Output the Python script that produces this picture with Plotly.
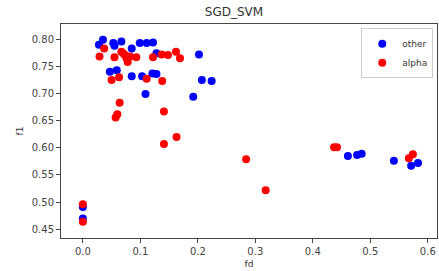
import plotly.graph_objects as go

other_fd = [0.035, 0.028, 0.053, 0.055, 0.067, 0.085, 0.099, 0.111, 0.122, 0.128,
            0.202, 0.047, 0.059, 0.085, 0.103, 0.121, 0.128, 0.109, 0.207, 0.224,
            0.192, 0.0, 0.0, 0.461, 0.477, 0.485, 0.541, 0.571, 0.583]
other_f1 = [0.799, 0.790, 0.793, 0.788, 0.796, 0.783, 0.793, 0.793, 0.794, 0.774,
            0.772, 0.740, 0.743, 0.732, 0.732, 0.737, 0.736, 0.699, 0.725, 0.723,
            0.694, 0.491, 0.470, 0.585, 0.587, 0.589, 0.576, 0.567, 0.572]

alpha_fd = [0.037, 0.029, 0.055, 0.067, 0.070, 0.073, 0.076, 0.082, 0.093, 0.078,
            0.122, 0.137, 0.148, 0.162, 0.169, 0.050, 0.063, 0.111, 0.138, 0.064,
            0.060, 0.057, 0.141, 0.163, 0.141, 0.284, 0.318, 0.437, 0.442, 0.567,
            0.574, 0.0, 0.0]
alpha_f1 = [0.783, 0.768, 0.767, 0.777, 0.774, 0.771, 0.765, 0.768, 0.767, 0.758,
            0.767, 0.772, 0.771, 0.777, 0.765, 0.725, 0.730, 0.727, 0.723, 0.683,
            0.662, 0.656, 0.667, 0.620, 0.607, 0.579, 0.522, 0.601, 0.601, 0.581,
            0.588, 0.496, 0.464]

x_ticks = [0.0, 0.1, 0.2, 0.3, 0.4, 0.5, 0.6]
y_ticks = [0.45, 0.50, 0.55, 0.60, 0.65, 0.70, 0.75, 0.80]

fig = go.Figure()
fig.add_trace(go.Scatter(x=other_fd, y=other_f1, mode="markers", name="other",
                         marker=dict(color="blue", size=8)))
fig.add_trace(go.Scatter(x=alpha_fd, y=alpha_f1, mode="markers", name="alpha",
                         marker=dict(color="red", size=8)))

axis_common = dict(showgrid=False, zeroline=False, showline=True, linecolor="#444",
                   linewidth=1, mirror=True, ticks="outside", ticklen=4,
                   tickcolor="#444", tickfont=dict(size=10, color="#444"))

fig.update_layout(
    width=439, height=271,
    margin=dict(l=61, r=2, t=24, b=33),
    plot_bgcolor="white", paper_bgcolor="white",
    font=dict(family="DejaVu Sans", color="#333"),
    title=dict(text="SGD_SVM", x=0.533, xanchor="center", y=0.955, yanchor="middle",
               font=dict(size=12, color="#333")),
    xaxis=dict(range=[-0.038, 0.616], tickvals=x_ticks,
               ticktext=[f"{v:.1f}" for v in x_ticks],
               title=dict(text="fd", font=dict(size=9), standoff=4), **axis_common),
    yaxis=dict(range=[0.434, 0.828], tickvals=y_ticks,
               ticktext=[f"{v:.2f}" for v in y_ticks],
               title=dict(text="f1", font=dict(size=9), standoff=6), **axis_common),
    legend=dict(x=0.99, y=0.98, xanchor="right", yanchor="top",
                bordercolor="#ccc", borderwidth=1, bgcolor="white",
                font=dict(size=9, color="#333"), itemwidth=30, tracegroupgap=0),
    showlegend=True,
)

fig.write_html("out.html", config={"displayModeBar": False},
               post_script="document.body.style.margin='0';")
